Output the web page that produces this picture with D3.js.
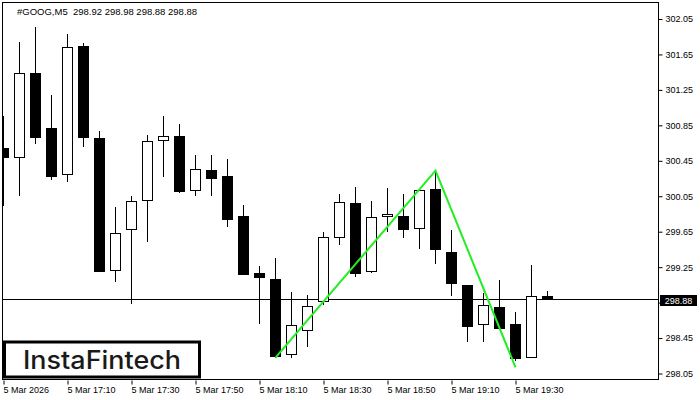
<!DOCTYPE html>
<html><head><meta charset="utf-8">
<script src="https://cdn.jsdelivr.net/npm/d3@7"></script>
<style>body{margin:0;background:#fff}svg{display:block}</style>
</head><body>
<svg id="c" width="700" height="400"></svg>
<script>
const symbol = "#GOOG,M5";
const times = ["16:50","16:55","17:00","17:05","17:10","17:15","17:20","17:25","17:30","17:35","17:40","17:45","17:50","17:55","18:00","18:05","18:10","18:15","18:20","18:25","18:30","18:35","18:40","18:45","18:50","18:55","19:00","19:05","19:10","19:15","19:20","19:25","19:30","19:35","19:40"];
const opens  = [300.59,300.49,301.44,300.82,300.29,301.74,300.70,299.21,299.67,300.00,300.68,300.72,300.11,300.34,300.27,299.82,299.18,299.11,298.26,298.54,298.86,299.58,299.97,299.20,299.82,299.82,299.69,300.13,299.41,299.04,298.60,298.79,298.60,298.23,298.92];
const highs  = [300.96,301.79,301.96,301.19,301.88,301.78,300.79,299.93,300.05,300.74,300.95,300.87,300.52,300.51,300.47,299.95,299.26,299.35,298.97,298.94,299.65,300.07,300.15,300.00,300.14,300.08,300.12,300.34,299.67,299.05,298.96,299.11,298.74,299.27,298.98];
const lows   = [299.94,300.05,300.64,300.23,300.21,300.61,299.19,299.08,298.83,299.53,300.27,300.09,300.05,300.05,299.70,299.16,298.61,298.23,298.22,298.35,298.82,299.50,299.14,299.18,299.65,299.58,299.46,299.29,298.92,298.40,298.41,298.55,298.19,298.22,298.88];
const closes = [300.49,301.43,300.71,300.27,301.73,300.71,299.20,299.63,299.99,300.67,300.72,300.10,300.35,300.25,299.79,299.17,299.13,298.24,298.59,298.81,299.59,299.98,299.18,299.81,299.84,299.67,300.11,299.45,299.06,298.58,298.82,298.56,298.22,298.92,298.88];
const lastPrice = 298.88;
const yTicks = [302.05,301.65,301.25,300.85,300.45,300.05,299.65,299.25,298.85,298.45,298.05];
const xTickTimes = ["16:50","17:10","17:30","17:50","18:10","18:30","18:50","19:10","19:30"];
const xTickLabels = ["5 Mar 2026","5 Mar 17:10","5 Mar 17:30","5 Mar 17:50","5 Mar 18:10","5 Mar 18:30","5 Mar 18:50","5 Mar 19:10","5 Mar 19:30"];
const patternTimes = ["18:15","19:05","19:30"];
const patternPrices = [298.23,300.34,298.12];

const svg = d3.select("#c");
const L = 3, R = 658, T = 3, B = 380;
const idx = t => times.indexOf(t);
const x = d3.scaleLinear().domain([0, 40.9375]).range([3.5, 658.5]);
const y = d3.scaleLinear().domain([298.05, 302.05]).range([373.5, 19]);
const snap = v => Math.round(v - 0.5) + 0.5;
const f2 = d3.format(".2f");

svg.append("defs").append("clipPath").attr("id","clip")
  .append("rect").attr("x",L).attr("y",T).attr("width",R-L).attr("height",B-T);

const data = times.map((t,i)=>({t, o:opens[i], h:highs[i], l:lows[i], c:closes[i]}));

// price line
svg.append("line").attr("x1",L).attr("x2",R)
  .attr("y1",snap(y(lastPrice))).attr("y2",snap(y(lastPrice)))
  .attr("stroke","#000").attr("stroke-width",1);

const g = svg.append("g").attr("clip-path","url(#clip)");
const cg = g.selectAll("g.cd").data(data).join("g").attr("class","cd");
cg.append("line")
  .attr("x1",d=>x(idx(d.t))).attr("x2",d=>x(idx(d.t)))
  .attr("y1",d=>Math.round(y(d.h))).attr("y2",d=>Math.round(y(d.l)))
  .attr("stroke","#000").attr("stroke-width",1);
cg.append("rect")
  .attr("x",d=>x(idx(d.t))-5)
  .attr("y",d=>snap(y(Math.max(d.o,d.c))))
  .attr("width",10)
  .attr("height",d=>Math.max(1, snap(y(Math.min(d.o,d.c))) - snap(y(Math.max(d.o,d.c)))))
  .attr("fill",d=>d.c>=d.o ? "#fff" : "#000")
  .attr("stroke","#000").attr("stroke-width",1);

// pattern line
const line = d3.line().x((d,i)=>x(idx(patternTimes[i]))).y((d,i)=>y(patternPrices[i]));
g.append("path").datum(patternPrices).attr("d",line)
  .attr("fill","none").attr("stroke","#22ee22").attr("stroke-width",2);

// frame
svg.append("rect").attr("x",L-0.5).attr("y",T-0.5).attr("width",R-L+1).attr("height",B-T)
  .attr("fill","none").attr("stroke","#000").attr("stroke-width",1);

// y axis (label under the last-price box is hidden, as in the original)
const ya = svg.append("g").attr("transform",`translate(${R+0.5},0)`)
  .call(d3.axisRight(y).tickValues(yTicks).tickSize(4).tickPadding(3)
    .tickFormat(d => Math.abs(d-lastPrice) < 0.1 ? "" : f2(d)));
ya.select(".domain").remove();
ya.selectAll("text").attr("font-family","Liberation Sans, Arial, sans-serif").attr("font-size",9).attr("fill","#000");
ya.selectAll(".tick line").attr("stroke","#000");

// x axis
const xa = svg.append("g").attr("transform",`translate(0,${B+0.5})`)
  .call(d3.axisBottom(x).tickValues(xTickTimes.map(idx)).tickSize(4).tickPadding(2)
    .tickFormat((d,i)=>xTickLabels[i]));
xa.select(".domain").remove();
xa.selectAll("text").attr("text-anchor","start").attr("x",-0.5)
  .attr("font-family","Liberation Sans, Arial, sans-serif").attr("font-size",9).attr("fill","#000");
xa.selectAll(".tick line").attr("stroke","#000");

// last price label
const py = y(lastPrice);
svg.append("rect").attr("x",660).attr("y",Math.round(py)-5).attr("width",37).attr("height",11).attr("fill","#000");
svg.append("text").attr("x",678.5).attr("y",Math.round(py)+4).attr("text-anchor","middle")
  .attr("font-family","Liberation Sans, Arial, sans-serif").attr("font-size",9).attr("fill","#fff")
  .text(f2(lastPrice));

// header
svg.append("text").attr("x",17).attr("y",15).attr("style","white-space:pre")
  .attr("font-family","Liberation Sans, Arial, sans-serif").attr("font-size",9.5).attr("fill","#000")
  .text(`${symbol}  ${f2(opens[opens.length-1])} ${f2(highs[highs.length-1])} ${f2(lows[lows.length-1])} ${f2(closes[closes.length-1])}`);

// logo
svg.append("rect").attr("x",4.5).attr("y",342).attr("width",195).attr("height",35)
  .attr("fill","#fff").attr("stroke","#000").attr("stroke-width",3);
svg.append("text").attr("x",23).attr("y",368.5)
  .attr("font-family","Inter, Noto Sans, sans-serif").attr("font-weight",500).attr("font-size",25)
  .attr("fill","#1a1a1a").attr("textLength",158).attr("lengthAdjust","spacingAndGlyphs")
  .text("InstaFintech");
</script>
</body></html>
